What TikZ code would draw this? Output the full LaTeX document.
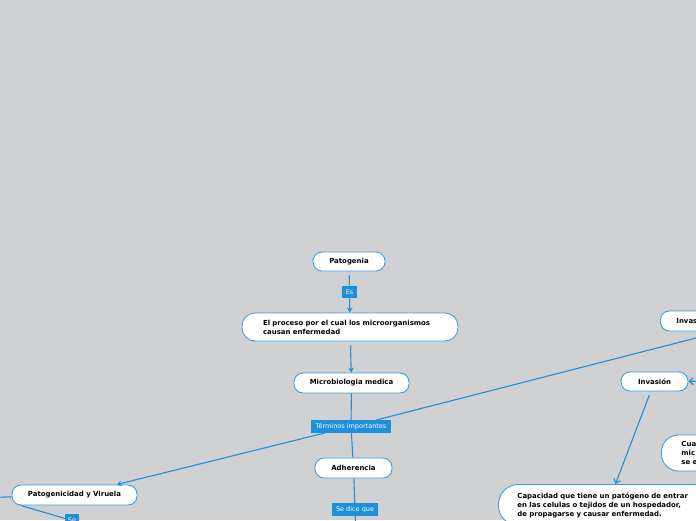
\documentclass[tikz,border=0pt]{standalone}
\usepackage{fontspec}
\setmainfont{DejaVu Sans}
\usetikzlibrary{arrows.meta}
\usetikzlibrary{positioning}

\definecolor{bgray}{HTML}{D0D1D3}
\definecolor{mblue}{HTML}{1E90DB}
\definecolor{bblue}{HTML}{3A9FE3}

\begin{document}
\begin{tikzpicture}[x=1pt,y=-1pt,
    topic/.style={draw=bblue, line width=0.9pt, fill=white, rounded corners=9pt,
        minimum height=19pt, inner sep=0pt, font=\fontsize{6.95}{9}\selectfont\bfseries},
    tag/.style={fill=mblue, text=white, inner sep=0pt, minimum height=12.5pt,
        font=\fontsize{6.5}{8}\selectfont},
    link/.style={draw=mblue, line width=1.1pt},
    tip/.style={-{Stealth[length=5pt,width=5.5pt]}},
    vtip/.style={-{Straight Barb[length=4pt,width=7pt]}}]

    \useasboundingbox (0,0) rectangle (696,520);
    \fill[bgray] (0,0) rectangle (696,520);
    \clip (0,0) rectangle (696,520);

    \node[topic, minimum width=72pt] (patogenia) at (349,261.5) {Patogenia};
    \node[tag, minimum width=15pt] (es) at (349.5,292) {Es};
    \node[topic, minimum width=216pt, minimum height=28pt, rounded corners=13pt,
        text width=174pt, align=left] (proceso) at (350,327)
        {El proceso por el cual los microorganismos\\causan enfermedad};
    \node[topic, minimum width=115pt, minimum height=20pt] (micro) at (351.5,383) {Microbiologia medica};
    \node[tag, minimum width=80pt] (terminos) at (351,426.5) {Términos importantes};
    \node[topic, minimum width=77pt, minimum height=20pt] (adherencia) at (353.5,468) {Adherencia};
    \node[tag, minimum width=46pt] (sedice) at (355,509.5) {Se dice que};
    \node[topic, minimum width=125pt, minimum height=20pt] (patog) at (74.5,495) {Patogenicidad y Viruela};
    \node[tag, minimum width=14pt] (se) at (72,520.5) {Se};

    \node[topic, anchor=west, minimum height=20pt, inner xsep=16pt, text width=60pt,
        align=left] (invas) at (660,321) {Invas};
    \node[topic, minimum width=67pt] (invasion) at (654.5,381.5) {Invasión};
    \node[topic, anchor=west, minimum height=36pt, rounded corners=17pt,
        inner xsep=20pt, text width=60pt, align=left] (cua) at (661,453) {Cua\\mic\\se e};
    \node[topic, anchor=north west, minimum width=218pt, rounded corners=20pt,
        inner ysep=8pt, text width=180pt, align=left] (capacidad) at (498,484)
        {Capacidad que tiene un patógeno de entrar\\en las celulas o tejidos de un hospedador,\\de propagarse y causar enfermedad.};

    \coordinate (invright) at (730,329.3);
    \coordinate (invin) at (720,381);
    \coordinate (patin) at (-30,498);
    \coordinate (adhout) at (356,540);

    \draw[link, shorten <=4pt] (patogenia) -- (es);
    \draw[link, tip] (es) -- (proceso);
    \draw[link, tip, shorten <=4pt] (proceso) -- (micro);
    \draw[link] (micro) -- (terminos);
    \draw[link] (terminos) -- (adherencia);
    \draw[link, tip] (terminos) -- (patog);
    \draw[link] (terminos) -- (invright);
    \draw[link] (adherencia) -- (sedice);
    \draw[link] (sedice) -- (adhout);
    \draw[link] (patin) -- (patog);
    \draw[link] (patog.191) -- (se);
    \draw[link, vtip] (invin) -- (invasion);
    \draw[link, vtip, shorten <=4pt] (invasion) -- (capacidad);
\end{tikzpicture}
\end{document}
